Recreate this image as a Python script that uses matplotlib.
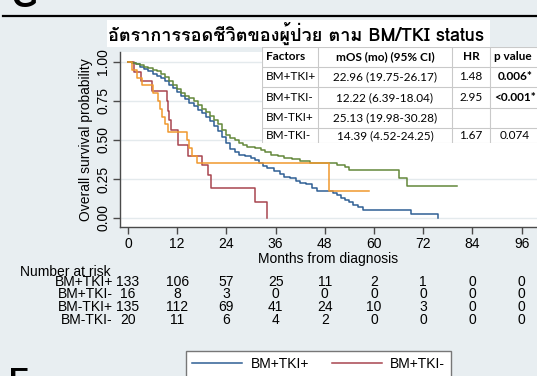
import matplotlib.pyplot as plt
from matplotlib.lines import Line2D
from matplotlib.patches import Rectangle

W, H = 537, 376

def fx(px):
    return px / W

def fy(py):
    return 1 - py / H

groups = ["BM+TKI+", "BM+TKI-", "BM-TKI+", "BM-TKI-"]
colors = ["#2f5f94", "#a8454f", "#63883a", "#f0982e"]

# Kaplan-Meier steps (months, survival)
t_bm_tki_pos = [0, 1, 2, 3, 4, 5, 6, 7, 8, 9, 10, 11, 12, 13, 14, 15, 16, 17, 18, 19, 20,
                21, 22, 23, 24, 25, 26, 27, 28.5, 30, 31, 32, 33, 34, 35.5, 37, 38, 39.5,
                41, 42, 43.5, 45, 46, 48, 50, 51, 52, 53, 54, 55, 56, 57.3, 69, 75.6]
s_bm_tki_pos = [1.0, 0.992, 0.985, 0.97, 0.955, 0.94, 0.925, 0.91, 0.895, 0.875, 0.855,
                0.83, 0.805, 0.785, 0.76, 0.74, 0.715, 0.695, 0.67, 0.645, 0.62, 0.59, 0.56,
                0.52, 0.48, 0.44, 0.42, 0.405, 0.395, 0.385, 0.37, 0.355, 0.335, 0.32, 0.3,
                0.28, 0.265, 0.255, 0.24, 0.225, 0.215, 0.195, 0.175, 0.17, 0.16, 0.145,
                0.13, 0.115, 0.1, 0.085, 0.07, 0.05, 0.025, 0.0]

t_bm_tki_neg = [0, 1.5, 3.2, 5.9, 9.5, 9.8, 10.1, 10.5, 12.2, 14.6, 18.0, 19.5, 20.3, 31.0, 34.0]
s_bm_tki_neg = [1.0, 0.9375, 0.875, 0.8125, 0.75, 0.6875, 0.625, 0.5625, 0.47, 0.40, 0.34,
                0.275, 0.19, 0.10, 0.0]

t_nobm_tki_pos = [0, 1, 2, 3, 4, 5, 6, 7, 8, 9, 10, 11, 12, 13, 14, 15, 16, 17, 18, 19, 20,
                  21, 22, 23, 24, 25, 26, 27, 28, 29, 31, 32.5, 33.5, 35, 36.5, 38, 40, 42,
                  44.5, 48.5, 51, 53, 54, 66.2, 68, 80.2]
s_nobm_tki_pos = [1.0, 0.993, 0.985, 0.978, 0.97, 0.96, 0.95, 0.94, 0.925, 0.905, 0.88,
                  0.855, 0.825, 0.8, 0.785, 0.77, 0.75, 0.725, 0.7, 0.68, 0.655, 0.63, 0.6,
                  0.565, 0.535, 0.515, 0.5, 0.48, 0.465, 0.455, 0.448, 0.436, 0.42, 0.405,
                  0.395, 0.385, 0.378, 0.362, 0.355, 0.35, 0.34, 0.325, 0.31, 0.255, 0.205,
                  0.205]

t_nobm_tki_neg = [0, 1.0, 2.2, 3.5, 6.1, 7.4, 7.8, 8.2, 9.0, 9.8, 14.3, 15.0, 15.6, 16.8, 49.0, 58.8]
s_nobm_tki_neg = [1.0, 0.95, 0.9, 0.85, 0.8, 0.75, 0.7, 0.65, 0.6, 0.55, 0.5, 0.45, 0.4,
                  0.35, 0.175, 0.175]

risk_times = [0, 12, 24, 36, 48, 60, 72, 84, 96]
risk_bm_tki_pos = [133, 106, 57, 25, 11, 2, 1, 0, 0]
risk_bm_tki_neg = [16, 8, 3, 0, 0, 0, 0, 0, 0]
risk_nobm_tki_pos = [135, 112, 69, 41, 24, 10, 3, 0, 0]
risk_nobm_tki_neg = [20, 11, 6, 4, 2, 0, 0, 0, 0]

table_header = ["Factors", "mOS (mo) (95% CI)", "HR", "p value"]
table_mos = ["22.96 (19.75-26.17)", "12.22 (6.39-18.04)", "25.13 (19.98-30.28)", "14.39 (4.52-24.25)"]
table_hr = ["1.48", "2.95", "", "1.67"]
table_p = ["0.006*", "<0.001*", "", "0.074"]
table_p_bold = [True, True, False, False]

title = "อัตราการรอดชีวิตของผู้ป่วย ตาม BM/TKI status"

plt.rcParams['font.family'] = ['Liberation Sans', 'DejaVu Sans']
bg = "#e8eef1"
axc = "#4a4a4a"

fig = plt.figure(figsize=(W / 100, H / 100), dpi=100, facecolor=bg)

# panel letters and separator
fig.text(fx(12), fy(7), "G", fontsize=24, fontweight="bold", va="baseline")
fig.add_artist(Line2D([fx(3), 1], [fy(16), fy(16)], color="black", lw=1.6))
fig.text(fx(9), fy(367), "E", fontsize=22, fontweight="bold", va="top")

# title box
fig.add_artist(Rectangle((fx(107), fy(47)), fx(490) - fx(107), (47 - 20) / H,
                         facecolor="white", edgecolor="none", transform=fig.transFigure))
fig.text(fx(108), fy(33), title, fontsize=13, fontweight="bold", va="center",
         family=["Loma", "DejaVu Sans"])

# survival plot
ax = fig.add_axes([fx(120), fy(227), fx(537) - fx(120), (227 - 52) / H])
ax.set_facecolor("white")
curves = [(t_bm_tki_pos, s_bm_tki_pos), (t_bm_tki_neg, s_bm_tki_neg),
          (t_nobm_tki_pos, s_nobm_tki_pos), (t_nobm_tki_neg, s_nobm_tki_neg)]
lines = []
for (t, s), c in zip(curves, colors):
    ln, = ax.step(t, s, where="post", color=c, lw=1.1)
    lines.append(ln)

ax.set_xlim(-1.95, 99.76)
ax.set_ylim(-0.058, 1.064)
ax.set_xticks(risk_times)
ax.set_yticks([0, 0.25, 0.5, 0.75, 1.0])
ax.set_yticklabels(["0.00", "0.25", "0.50", "0.75", "1.00"], rotation=90, va="center")
ax.grid(axis="y", color="#e4eaed", lw=1.0)
ax.set_axisbelow(True)
for sp in ["top", "right"]:
    ax.spines[sp].set_visible(False)
for sp in ["left", "bottom"]:
    ax.spines[sp].set_color(axc)
    ax.spines[sp].set_linewidth(1.0)
ax.tick_params(axis="both", length=5, width=1.0, color=axc, labelsize=10)
ax.tick_params(axis="y", pad=2)
ax.tick_params(axis="x", pad=2)
ax.set_xlabel("Months from diagnosis", fontsize=10, labelpad=1)
ax.set_ylabel("Overall survival probability", fontsize=10, labelpad=2)

# summary table
tab = fig.add_axes([fx(262), fy(143), fx(560) - fx(262), (143 - 47) / H])
tab.set_xlim(262, 560)
tab.set_ylim(143, 47)
tab.set_facecolor("white")
tab.set_xticks([])
tab.set_yticks([])
for sp in tab.spines.values():
    sp.set_visible(False)
row_edges = [47, 67, 87, 108, 128, 143]
col_edges = [262, 318, 452, 490]
for y in row_edges:
    tab.axhline(y, color="#c9c9c9", lw=0.8)
for x in col_edges:
    tab.axvline(x, color="#c9c9c9", lw=0.8)
row_y = [57, 77, 97.5, 118, 135.5]
tf = "Lato"
fs = 8.5
tab.text(266, row_y[0], table_header[0], fontsize=fs, fontweight="bold", va="center", family=tf)
tab.text(385, row_y[0], table_header[1], fontsize=fs, fontweight="bold", va="center", ha="center", family=tf)
tab.text(471, row_y[0], table_header[2], fontsize=fs, fontweight="bold", va="center", ha="center", family=tf)
tab.text(494, row_y[0], table_header[3], fontsize=fs, fontweight="bold", va="center", family=tf)
for i in range(4):
    y = row_y[i + 1]
    tab.text(266, y, groups[i], fontsize=fs, va="center", family=tf)
    tab.text(385, y, table_mos[i], fontsize=fs, va="center", ha="center", family=tf)
    tab.text(471, y, table_hr[i], fontsize=fs, va="center", ha="center", family=tf)
    tab.text(515, y, table_p[i], fontsize=fs, va="center", ha="center", family=tf,
             fontweight="bold" if table_p_bold[i] else "normal")

# number at risk
fig.text(fx(20), fy(272), "Number at risk", fontsize=10, va="center")
risk_rows = [risk_bm_tki_pos, risk_bm_tki_neg, risk_nobm_tki_pos, risk_nobm_tki_neg]
risk_y = [282, 294.5, 307, 320]
trans = ax.get_xaxis_transform()
for name, counts, py in zip(groups, risk_rows, risk_y):
    fig.text(fx(113), fy(py), name, fontsize=10, va="center", ha="right")
    ya = (227 - py) / (227 - 52)
    for t, n in zip(risk_times, counts):
        ax.text(t, ya, str(n), transform=trans, fontsize=10, ha="center", va="center",
                clip_on=False)

# legend, two columns filled so the first row reads BM+TKI+ / BM+TKI-
order = [0, 2, 1, 3]
fig.legend([lines[i] for i in order], [groups[i] for i in order], ncol=2, loc="upper left",
           bbox_to_anchor=(fx(186), fy(351)), frameon=True, fancybox=False,
           edgecolor="#777777", framealpha=1, fontsize=10, handlelength=3.6,
           handletextpad=0.6, columnspacing=1.65, borderpad=0.45, borderaxespad=0)

fig.savefig("out.png", dpi=100, facecolor=bg)
